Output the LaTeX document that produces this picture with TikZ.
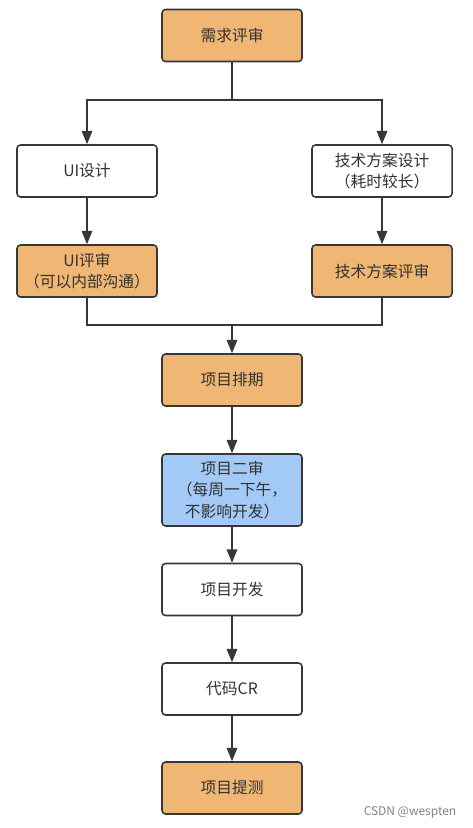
\documentclass[tikz,border=0pt]{standalone}
\usepackage{fontspec}
\setmainfont{Noto Sans CJK SC}
\usetikzlibrary{arrows.meta,calc}
\definecolor{reviewfill}{RGB}{240,182,115}
\definecolor{secondfill}{RGB}{163,201,247}
\definecolor{edgegray}{RGB}{55,55,55}
\definecolor{textgray}{RGB}{50,50,50}
\definecolor{markgray}{RGB}{130,130,130}

\begin{document}
\begin{tikzpicture}[x=0.025cm,y=-0.025cm,line width=1.1pt,draw=edgegray,
  >={Triangle[length=9.5pt,width=7.5pt]},
  box/.style={draw=edgegray,line width=1.1pt,rounded corners=2.5pt,
    minimum width=3.5cm,minimum height=1.3cm,align=center,
    text=textgray,font=\fontsize{11.2}{15}\selectfont},
  review/.style={box,fill=reviewfill},
  plain/.style={box,fill=white},
  second/.style={box,fill=secondfill,minimum height=1.8cm}]
\useasboundingbox (0,0) rectangle (473,828);
% ---------- top ----------
\node[review] (req) at (232,35.5) {需求评审};
% ---------- two branches ----------
\node[plain] (uidesign) at (87,171) {UI设计};
\node[plain] (techdesign) at (382,171) {技术方案设计\\（耗时较长）};
\node[review] (uireview) at (87,271) {UI评审\\（可以内部沟通）};
\node[review] (techreview) at (382,271) {技术方案评审};
% ---------- main line ----------
\node[review] (plan) at (232,380) {项目排期};
\node[second] (second) at (232,490) {项目二审\\（每周一下午，\\不影响开发）};
\node[plain] (dev) at (232,589.5) {项目开发};
\node[plain] (cr) at (232,689) {代码CR};
\node[review] (test) at (232,788) {项目提测};
% ---------- connectors ----------
\coordinate (split) at (232,100);
\coordinate (merge) at (232,325);
\draw (req) -- (split);
\draw[->] (split) -| (uidesign);
\draw[->] (split) -| (techdesign);
\draw[->] (uidesign) -- (uireview);
\draw[->] (techdesign) -- (techreview);
\draw (uireview) |- (merge);
\draw (techreview) |- (merge);
\draw[->] (merge) -- (plan);
\draw[->] (plan) -- (second);
\draw[->] (second) -- (dev);
\draw[->] (dev) -- (cr);
\draw[->] (cr) -- (test);
% watermark
\node[text=markgray,font=\fontsize{8.5}{10}\selectfont] (mark) at (410,812) {CSDN @wespten};
\end{tikzpicture}
\end{document}
